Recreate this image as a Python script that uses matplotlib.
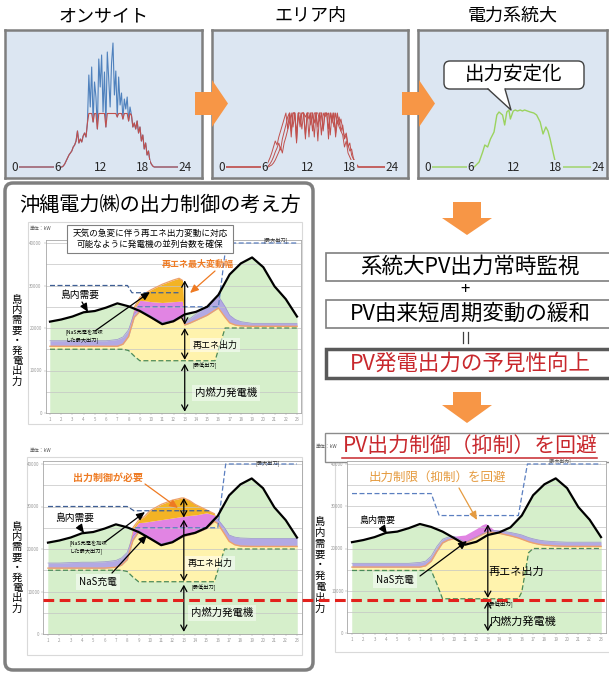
import numpy as np
import matplotlib.pyplot as plt
from matplotlib.patches import Rectangle, FancyBboxPatch, Polygon

plt.rcParams['font.family'] = ['Noto Sans CJK JP', 'DejaVu Sans']

# ---------------- data ----------------
panel_titles = ['オンサイト', 'エリア内', '電力系統大']
hour_ticks = [0, 6, 12, 18, 24]

# on-site PV output (height above baseline), sampled 6.6h .. 19.6h
onsite_vals = [0, 1, 3, 6, 9, 12, 14, 16, 20, 22, 26, 36,
               24, 28, 25, 31, 34, 30, 44, 92, 60, 100,
               45, 85, 70, 38, 108, 80, 112, 55, 95, 40,
               115, 88, 60, 104, 124, 72, 96, 50, 90, 62,
               74, 48, 68, 58, 70, 46, 60, 52, 40, 44,
               38, 46, 34, 40, 26, 32, 18, 24, 12, 16,
               6, 3, 1, 0]
onsite_cap = 53.5

# area PV output, three sites, sampled 6h .. 19.5h
area_a = [0, 2, 5, 9, 14, 20, 26, 22, 30, 36, 42, 48, 54, 38, 54, 30, 54, 54, 34, 54,
          44, 54, 54, 28, 54, 48, 54, 36, 54, 54, 40, 54, 32, 54, 50, 54, 38, 54, 44, 54,
          30, 46, 40, 36, 32, 20, 26, 14, 10, 6, 3, 1, 0, 0, 0]
area_b = [0, 0, 1, 3, 6, 10, 15, 19, 24, 17, 28, 35, 42, 50, 54, 36, 54, 54, 26, 54,
          40, 54, 54, 32, 54, 54, 42, 54, 30, 54, 54, 46, 54, 36, 54, 54, 28, 54, 48, 54,
          34, 54, 42, 48, 38, 30, 34, 22, 16, 18, 9, 5, 2, 0, 0]
area_c = [0, 0, 0, 1, 2, 4, 7, 11, 15, 20, 14, 24, 30, 37, 44, 54, 40, 54, 24, 54,
          54, 38, 54, 50, 54, 30, 54, 54, 44, 54, 26, 54, 54, 38, 54, 52, 54, 32, 54, 40,
          54, 44, 50, 36, 42, 28, 32, 20, 24, 12, 8, 4, 2, 0, 0]

# whole-grid PV output
grid_t = [6.5, 7.2, 7.7, 8.0, 8.4, 8.8, 9.3, 9.7, 10.0, 10.5, 10.8, 11.1, 11.4, 11.6, 12.0, 12.3,
          12.6, 13.0, 13.3, 13.6, 14.0, 14.4, 14.9, 15.3, 15.8, 16.2, 16.6, 16.9, 17.2, 17.7, 18.0, 18.4]
grid_v = [0, 5, 15, 22, 20, 28, 35, 52, 55, 52, 42, 55, 57, 48, 56, 57,
          56, 57, 56, 57, 56, 55, 54, 52, 45, 33, 40, 36, 28, 12, 3, 0]

# island demand (kW), hours 1..23
hours = list(range(1, 24))
demand = [21500, 22000, 22700, 23700, 24000, 24800, 25800, 25100, 24000, 22500, 20900, 21600,
          23200, 23800, 25000, 27800, 32600, 35200, 36600, 34300, 29800, 26800, 22700]

# common hour grid for the stacked layers
xs = [1, 2, 3, 4, 5, 6, 7, 7.5, 8, 8.5, 9, 9.5, 10, 11, 12, 12.5, 12.8, 13, 13.5, 14,
      15, 15.7, 16, 16.6, 17, 17.5, 18, 19, 20, 21, 22, 23]

# chart 1 (upper left)
gen1 = [15000, 15000, 15000, 15000, 15000, 15000, 15000, 15000, 14700, 13400, 12300, 12300,
        12300, 12300, 12300, 12300, 12300, 12300, 12300, 12300, 12300, 12300, 14900, 20000,
        20000, 20000, 20000, 20000, 20000, 20000, 20000, 20000]
yel1 = [15700, 15700, 15700, 15700, 15700, 15700, 15700, 16200, 18000, 22500, 23900, 23200,
        22400, 20900, 21500, 22200, 22500, 20700, 21200, 21800, 23000, 24200, 24700, 22500,
        21200, 20700, 20500, 20400, 20400, 20400, 20400, 20400]
pur1 = [17000, 17000, 17000, 17000, 17000, 17000, 17300, 17900, 19600, 23500, 24300, 23600,
        22800, 21300, 21900, 22600, 22900, 21400, 22300, 23300, 25200, 27000, 27500, 25000,
        23000, 22000, 21500, 21100, 21100, 21100, 21100, 21100]
pink1 = [17000, 17000, 17000, 17000, 17000, 17000, 17300, 17900, 19600, 24500, 26500, 26400,
         26200, 26000, 26200, 26300, 26300, 21400, 22300, 23300, 25200, 27000, 27500, 25000,
         23000, 22000, 21500, 21100, 21100, 21100, 21100, 21100]
ora1 = [17000, 17000, 17000, 17000, 17000, 17000, 17300, 17900, 19600, 24800, 27200, 28200,
        29000, 30300, 31300, 31700, 31200, 21400, 22300, 23300, 25200, 27000, 27500, 25000,
        23000, 22000, 21500, 21100, 21100, 21100, 21100, 21100]
max1_a = ([1, 7.9, 8.3, 12.5], [30000, 30000, 28300, 28300])
max1_b = ([8.8, 16, 16.7, 23], [25000, 25000, 40000, 40000])

# chart 2 (lower left)
gen2 = [15000, 15000, 15000, 15000, 15000, 15000, 15000, 15000, 14700, 13400, 12300, 12300,
        12300, 12300, 12300, 12300, 12300, 12300, 12300, 12300, 12300, 12300, 14900, 20000,
        20000, 20000, 20000, 20000, 20000, 20000, 20000, 20000]
yel2 = [15500, 15500, 15500, 15500, 15500, 15500, 15700, 16200, 17500, 22000, 24000, 23200,
        22400, 20900, 21600, 22300, 22700, 23000, 23300, 23700, 24800, 26500, 26000, 23500,
        21800, 21000, 20700, 20600, 20600, 20600, 20600, 20600]
pur2 = [16700, 16700, 16800, 16900, 16900, 17000, 17300, 17900, 19200, 23000, 24400, 23500,
        22700, 21200, 21900, 22600, 23000, 23300, 23600, 24000, 25200, 27300, 27000, 25000,
        23300, 22800, 22600, 22500, 22500, 22500, 22500, 22500]
pink2 = [16700, 16700, 16800, 16900, 16900, 17000, 17300, 17900, 19200, 24500, 26200, 26300,
         26500, 26900, 27300, 27500, 27600, 27700, 27900, 28000, 28500, 28000, 27000, 25000,
         23300, 22800, 22600, 22500, 22500, 22500, 22500, 22500]
ora2 = [16700, 16700, 16800, 16900, 16900, 17000, 17300, 17900, 19200, 25000, 26800, 27600,
        29000, 30500, 31500, 31800, 32000, 32000, 31400, 30500, 29200, 28300, 27000, 25000,
        23300, 22800, 22600, 22500, 22500, 22500, 22500, 22500]
max2_a = ([1, 8, 8.6, 15.4], [30000, 30000, 29000, 29000])
max2_b = ([8.7, 16, 16.7, 23], [25000, 25000, 40000, 40000])

# chart 3 (lower right)
gen3 = [14800, 14800, 14800, 14800, 14800, 14800, 14800, 14800, 14800, 11600, 8100, 8100,
        8100, 8100, 8100, 8100, 8100, 8100, 8100, 8100, 8100, 8100, 9700, 19000,
        20000, 20000, 20000, 20000, 20000, 20000, 20000, 20000]
yel3 = [15600, 15600, 15600, 15600, 15600, 15600, 15600, 15900, 17000, 19300, 21300, 22000,
        22300, 21300, 22600, 23300, 23700, 23900, 23800, 23600, 23000, 22500, 22200, 21600,
        21300, 21000, 20800, 20600, 20500, 20500, 20500, 20500]
pur3 = [16500, 16500, 16500, 16500, 16500, 16500, 16700, 17000, 18200, 20500, 22200, 22700,
        22900, 21500, 22800, 23500, 23900, 24100, 24300, 24200, 23800, 23400, 23200, 22600,
        22300, 22000, 21800, 21600, 21500, 21500, 21500, 21500]
pink3 = [16500, 16500, 16500, 16500, 16500, 16500, 16700, 17000, 18200, 20500, 22200, 22700,
         22900, 23200, 24700, 25600, 25900, 25600, 24500, 24200, 23800, 23400, 23200, 22600,
         22300, 22000, 21800, 21600, 21500, 21500, 21500, 21500]
max3 = ([1, 8, 8.7, 15.7, 16.5, 23], [33000, 33000, 27800, 27800, 40000, 40000])

# ---------------- figure ----------------
W, H = 609, 675
fig = plt.figure(figsize=(W / 100, H / 100), dpi=100)


def pax(left, top, width, height, z=1):
    ax = fig.add_axes([left / W, 1 - (top + height) / H, width / W, height / H])
    ax.set_zorder(z)
    return ax


bg = pax(0, 0, W, H, 0)
bg.set_xlim(0, W)
bg.set_ylim(H, 0)
bg.axis('off')
fg = pax(0, 0, W, H, 10)
fg.set_xlim(0, W)
fg.set_ylim(H, 0)
fg.axis('off')

PANEL_BG = '#dce6f2'
RED = '#c0504d'
BLUE = '#4f81bd'
PVGREEN = '#9bd35f'
ARROW = '#f79646'

# ---- top row panels ----
panel_x = [5, 212, 418]
panel_w = [197, 196, 189]
panels = []
for i in range(3):
    ax = pax(panel_x[i], 30, panel_w[i], 148, 2)
    ax.set_facecolor(PANEL_BG)
    ax.set_xlim(-10 / 7.1, (panel_w[i] - 10) / 7.1)
    ax.set_ylim(-11, 137)
    ax.set_xticks([])
    ax.set_yticks([])
    for s in ax.spines.values():
        s.set_color('#7f7f7f')
        s.set_linewidth(1.8)
    for h in hour_ticks:
        ax.text(h, 0, str(h), ha='center', va='center', fontsize=8.5, color='#262626',
                bbox=dict(fc=PANEL_BG, ec='none', pad=0.4), zorder=5)
    bg.text(panel_x[i] + panel_w[i] / 2, 16, panel_titles[i], ha='center', va='center',
            fontsize=13)
    panels.append(ax)

t1 = np.concatenate([[0], np.linspace(6.6, 19.6, len(onsite_vals)), [24]])
v1 = np.concatenate([[0], onsite_vals, [0]])
panels[0].plot(t1, v1, color=BLUE, lw=0.8)
panels[0].plot(t1, np.minimum(v1, onsite_cap), color=RED, lw=0.8)

for s in (area_a, area_b, area_c):
    t = np.concatenate([[0], np.linspace(6, 19.5, len(s)), [24]])
    v = np.concatenate([[0], s, [0]])
    panels[1].plot(t, v, color=RED, lw=0.7)

panels[2].plot([0] + grid_t + [24], [0] + grid_v + [0], color=PVGREEN, lw=1.0)

# callout
fg.add_patch(FancyBboxPatch((444, 61), 140, 28, boxstyle='round,pad=0,rounding_size=6',
                            fc='white', ec='#404040', lw=1))
fg.add_patch(Polygon([(488, 88), (511, 110), (505, 88)], fc='white', ec='none'))
fg.plot([488, 511, 505], [89, 110, 89], color='#404040', lw=1)
fg.text(514, 75, '出力安定化', ha='center', va='center', fontsize=14)


def right_arrow(x0, xh, x1, cy):
    fg.add_patch(Polygon([(x0, cy - 11.5), (xh, cy - 11.5), (xh, cy - 23.5), (x1, cy),
                          (xh, cy + 23.5), (xh, cy + 11.5), (x0, cy + 11.5)],
                         fc=ARROW, ec='none'))


def down_arrow(cx, y0, yh, y1):
    fg.add_patch(Polygon([(cx - 14, y0), (cx + 14, y0), (cx + 14, yh), (cx + 25, yh),
                          (cx, y1), (cx - 25, yh), (cx - 14, yh)], fc=ARROW, ec='none'))


right_arrow(195, 212, 228, 103.5)
right_arrow(402, 419, 435, 103.5)
down_arrow(467, 202, 218, 235)
down_arrow(467, 392, 405, 423)

# ---- left big box ----
bg.add_patch(FancyBboxPatch((5, 183), 308, 487, boxstyle='round,pad=0,rounding_size=8',
                            fc='white', ec='#7f7f7f', lw=2.5))
bg.text(160, 205, '沖縄電力㈱の出力制御の考え方', ha='center', va='center', fontsize=14.5)

# faint frames of the pasted charts
for (l, t, w, h) in [(28, 222, 274, 202), (27, 457, 275, 198), (335, 460, 276, 192)]:
    bg.add_patch(Rectangle((l, t), w, h, fc='white', ec='#d9d9d9', lw=0.8))

GREEN = '#d6efcb'
YELLOW = '#fff3ad'
LAV = '#b3a9e3'
PINK = '#e184e3'
ORANGE = '#f3b324'
SALMON = '#eea16b'


def chart(rect, gen, yel, pur, pink, ora, max_lines, arrows):
    x1, x23, y0, y40 = rect
    kx = (x23 - x1) / 22
    ky = (y0 - y40) / 40000
    top = y0 - 40600 * ky
    ax = pax(x1 - 0.4 * kx, top, 22.8 * kx, y0 - top, 3)
    ax.set_xlim(0.6, 23.4)
    ax.set_ylim(0, 40600)
    ax.set_facecolor('white')
    gen, yel, pur, pink, ora = map(np.array, (gen, yel, pur, pink, ora))
    ax.fill_between(hours, 0, demand, color=GREEN, lw=0, zorder=1)
    ax.fill_between(xs, 0, gen, color=GREEN, lw=0, zorder=1)
    ax.fill_between(xs, gen, yel, color=YELLOW, lw=0, zorder=1.5)
    ax.fill_between(xs, yel, pur, color=LAV, lw=0, zorder=1.5)
    ax.fill_between(xs, pur, pink, color=PINK, lw=0, zorder=1.5)
    ax.fill_between(xs, pink, ora, color=ORANGE, lw=0, zorder=1.5)
    for v in range(5000, 40001, 5000):
        ax.axhline(v, color='#c4c4c4', lw=0.5, zorder=2)
    ax.plot(xs, yel, color=SALMON, lw=1.0, zorder=3)
    ax.plot(xs, pur, color='#9a90d0', lw=0.5, zorder=3)
    ax.plot(xs, np.ma.masked_where(ora <= pink, ora), color=SALMON, lw=0.9, zorder=3)
    ax.plot(xs, gen, color='#4a8a5a', lw=0.9, ls=(0, (4, 2)), zorder=4)
    for (mx, my, col) in max_lines:
        ax.plot(mx, my, color=col, lw=0.9, ls=(0, (4, 2)), zorder=4)
    ax.plot(hours, demand, color='black', lw=1.6, zorder=5)
    for (a, b) in arrows:
        ax.annotate('', xy=(13, a), xytext=(13, b), zorder=6,
                    arrowprops=dict(arrowstyle='<->,head_length=0.4,head_width=0.22',
                                    lw=0.9, color='black', shrinkA=0, shrinkB=0))
    ax.set_xticks(hours)
    ax.set_xticklabels([str(h) for h in hours], fontsize=3.2, color='#555555')
    ax.set_yticks([0, 10000, 20000, 30000, 40000])
    ax.set_yticklabels(['0', '10000', '20000', '30000', '40000'], fontsize=3.2,
                       color='#555555')
    ax.tick_params(length=1.2, width=0.3, pad=1.5, colors='#999999')
    for s in ax.spines.values():
        s.set_color('#a6a6a6')
        s.set_linewidth(0.6)
    return ax


BLUE_D = '#5b7fc0'
chart((50, 297, 413, 243), gen1, yel1, pur1, pink1, ora1,
      [(max1_a[0], max1_a[1], '#3f5f95'), (max1_b[0], max1_b[1], BLUE_D)],
      [(31200, 20800), (20000, 12500), (11600, 300)])
chart((48, 297, 634, 464), gen2, yel2, pur2, pink2, ora2,
      [(max2_a[0], max2_a[1], '#3f5f95'), (max2_b[0], max2_b[1], BLUE_D)],
      [(32000, 27400), (26900, 12400), (11600, 500)])
chart((352, 601, 633, 464), gen3, yel3, pur3, pink3, pink3,
      [(max3[0], max3[1], BLUE_D)],
      [(25700, 8300), (7500, 400)])

# ---- annotations (pixel coordinates) ----
OR_TXT = '#ee7a22'
SIDE = '島内需要・発電出力'


def vtext(x, y0, step, fs=7.5):
    for k, ch in enumerate(SIDE):
        bg.text(x, y0 + k * step, ch, ha='center', va='center', fontsize=fs)


def arrow(tail, tip, color='black', lw=0.9):
    fg.annotate('', xy=tip, xytext=tail,
                arrowprops=dict(arrowstyle='-|>,head_length=0.5,head_width=0.22',
                                color=color, lw=lw, shrinkA=0, shrinkB=0))


vtext(17, 300, 10.2)
vtext(17, 527, 10.2)
vtext(320, 522, 10.8)

# chart 1
fg.add_patch(Rectangle((67, 225), 166, 28, fc='white', ec='#808080', lw=0.8))
fg.text(150, 239, '天気の急変に伴う再エネ出力変動に対応\n可能なように発電機の並列台数を確保',
        ha='center', va='center', fontsize=6.2, linespacing=1.25)
fg.text(30, 229, '単位：kW', fontsize=3.5, color='#555555', va='center')
fg.text(276, 240, '[最大出力]', fontsize=3.8, color='#333333', ha='center', va='center')
fg.text(198, 264, '再エネ最大変動幅', fontsize=6.5, color=OR_TXT, fontweight='bold',
        ha='center', va='center')
arrow((215, 271), (190, 293), OR_TXT)
fg.text(80, 295, '島内需要', fontsize=7, ha='center', va='center')
arrow((82, 302), (88, 312))
fg.text(66, 337, '[NaS充電を加味\nした最大出力]', fontsize=3.8, va='center', linespacing=1.3)
arrow((95, 331), (150, 292))
fg.text(215, 345, '再エネ出力', fontsize=6.5, ha='center', va='center',
        bbox=dict(fc='white', ec='none', alpha=0.5, pad=2))
fg.text(205, 366, '[最低出力]', fontsize=3.8, ha='center', va='center')
fg.text(226, 393, '内燃力発電機', fontsize=7.5, ha='center', va='center',
        bbox=dict(fc='white', ec='none', alpha=0.45, pad=2))

# chart 2
fg.text(30, 450, '単位：kW', fontsize=3.5, color='#555555', va='center')
fg.text(268, 463, '[最大出力]', fontsize=3.8, color='#333333', ha='center', va='center')
fg.text(108, 478, '出力制御が必要', fontsize=7.2, color=OR_TXT, fontweight='bold',
        ha='center', va='center')
arrow((145, 484), (178, 508), OR_TXT)
fg.text(75, 518, '島内需要', fontsize=7, ha='center', va='center')
arrow((79, 526), (84, 533))
fg.text(70, 548, '[NaS充電を加味\nした最大出力]', fontsize=3.8, va='center', linespacing=1.3)
arrow((105, 542), (145, 512))
fg.text(98, 582, 'NaS充電', fontsize=7, ha='center', va='center',
        bbox=dict(fc='white', ec='none', alpha=0.5, pad=2))
arrow((112, 573), (147, 535))
fg.text(210, 563, '再エネ出力', fontsize=6.5, ha='center', va='center',
        bbox=dict(fc='white', ec='none', alpha=0.5, pad=2))
fg.text(204, 588, '[最低出力]', fontsize=3.8, ha='center', va='center')
fg.text(222, 613, '内燃力発電機', fontsize=7.5, ha='center', va='center',
        bbox=dict(fc='white', ec='none', alpha=0.45, pad=2))

# chart 3
fg.text(437, 477, '出力制限（抑制）を回避', fontsize=9, color='#e59b40',
        ha='center', va='center')
arrow((459, 488), (477, 520), '#e59b40')
fg.text(377, 520, '島内需要', fontsize=6.5, ha='center', va='center')
arrow((382, 527), (387, 534))
fg.text(395, 580, 'NaS充電', fontsize=7, ha='center', va='center',
        bbox=dict(fc='white', ec='none', alpha=0.5, pad=2))
arrow((420, 576), (467, 541))
fg.text(516, 572, '再エネ出力', fontsize=8, ha='center', va='center')
fg.text(500, 604, '[最低出力]', fontsize=4, ha='center', va='center')
fg.text(523, 622, '内燃力発電機', fontsize=8, ha='center', va='center')

# red dashed level line
fg.plot([43, 609], [600, 600], color='#e3211c', lw=2.2, ls=(0, (3.5, 1.8)))

# ---- right column flow ----
bg.add_patch(Rectangle((326, 253), 290, 28, fc='white', ec='#7f7f7f', lw=1.2))
bg.text(470, 267, '系統大PV出力常時監視', ha='center', va='center', fontsize=15.5)
bg.text(465, 290, '+', ha='center', va='center', fontsize=12)
bg.add_patch(Rectangle((326, 300), 290, 28, fc='white', ec='#7f7f7f', lw=1.2))
bg.text(470, 314, 'PV由来短周期変動の緩和', ha='center', va='center', fontsize=15.5)
bg.plot([462.5, 462.5], [332, 343], color='#404040', lw=0.9)
bg.plot([467.5, 467.5], [332, 343], color='#404040', lw=0.9)
bg.add_patch(Rectangle((326, 349), 290, 29, fc='white', ec='#595959', lw=2.5))
bg.text(470, 363.5, 'PV発電出力の予見性向上', ha='center', va='center', fontsize=15.5,
        color='#c8282d')
bg.add_patch(Rectangle((325, 433), 290, 29, fc='white', ec='#8c8c8c', lw=1))
fg.text(470, 446, 'PV出力制御（抑制）を回避', ha='center', va='center', fontsize=15,
        color='#c8282d')
fg.plot([342, 597], [457.5, 457.5], color='#c8282d', lw=1.1)
fg.text(316, 447, '単位：kW', fontsize=3.5, color='#555555', va='center')
fg.text(560, 461, '[最大出力]', fontsize=3.5, color='#555555', ha='center', va='center')

fig.savefig('out.png', dpi=100)
